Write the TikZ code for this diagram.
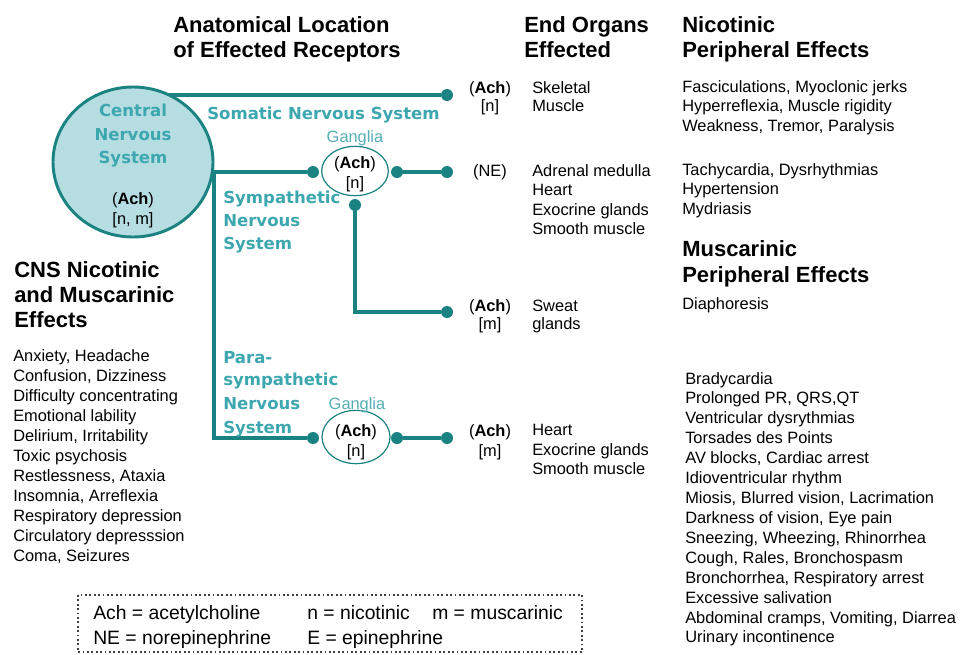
\documentclass[tikz,border=0pt]{standalone}
\usepackage{fontspec}
\setmainfont{Liberation Sans}
\newfontfamily\verd{DejaVu Sans}
\usetikzlibrary{shapes.geometric}
\definecolor{tealline}{HTML}{1B8282}
\definecolor{tealtext}{HTML}{3DA7B0}
\definecolor{tealfill}{HTML}{B6DDE1}
\definecolor{tealsoft}{HTML}{55ADB4}

\begin{document}
\begin{tikzpicture}[x=0.75pt,y=-0.75pt,
  every node/.style={inner sep=0pt},
  body/.style={anchor=base west,font=\fontsize{12.3}{15}\selectfont},
  mid/.style={anchor=base,font=\fontsize{12.3}{15}\selectfont},
  head/.style={anchor=base west,font=\fontsize{16.5}{20}\selectfont\bfseries},
  syslabel/.style={anchor=base west,text=tealtext,font=\fontsize{12.4}{15}\selectfont\verd\bfseries},
  nerve/.style={draw=tealline,line width=3pt},
  knob/.style={circle,fill=tealline,minimum size=9pt},
  ganglion/.style={ellipse,draw=tealline,fill=white,line width=0.9pt,minimum width=50pt,minimum height=37pt},
  legend/.style={anchor=base west,font=\fontsize{14.5}{18}\selectfont}]

\useasboundingbox (0,0) rectangle (973,654);

% column headings
\node[head] (hAnatA) at (173,32) {Anatomical Location};
\node[head] (hAnatB) at (173,57) {of Effected Receptors};
\node[head] (hOrgA) at (524,32) {End Organs};
\node[head] (hOrgB) at (524,57) {Effected};
\node[head] (hNicA) at (682,32) {Nicotinic};
\node[head] (hNicB) at (682,57) {Peripheral Effects};
\node[head] (hMusA) at (682,256) {Muscarinic};
\node[head] (hMusB) at (682,282) {Peripheral Effects};
\node[head] (hCnsA) at (14,277) {CNS Nicotinic};
\node[head] (hCnsB) at (14,302) {and Muscarinic};
\node[head] (hCnsC) at (14,327) {Effects};

% central nervous system
\node[ellipse,draw=tealline,fill=tealfill,line width=2.2pt,minimum width=120pt,minimum height=112.5pt] (cns) at (133,162) {};
\node[syslabel,anchor=base] (cnsA) at (133,116) {Central};
\node[syslabel,anchor=base] (cnsB) at (133,140) {Nervous};
\node[syslabel,anchor=base] (cnsC) at (133,163) {System};
\node[mid] (cnsAch) at (133,204) {(\textbf{Ach})};
\node[mid] (cnsRec) at (133,224) {[n, m]};

% ganglia
\node[ganglion] (gSym) at (355,171) {};
\node[ganglion,minimum width=51pt,minimum height=40pt] (gPara) at (356,437) {};
\node[mid,text=tealsoft] (gSymLbl) at (355,142) {Ganglia};
\node[mid,text=tealsoft] (gParaLbl) at (357,409) {Ganglia};
\node[mid] (gSymAch) at (355,168) {(\textbf{Ach})};
\node[mid] (gSymRec) at (355,188) {[n]};
\node[mid] (gParaAch) at (356,436) {(\textbf{Ach})};
\node[mid] (gParaRec) at (356,456) {[n]};

% knobs
\node[knob] (somEnd) at (447,95) {};
\node[knob] (symIn) at (313,172) {};
\node[knob] (symOut) at (397,172) {};
\node[knob] (symEnd) at (447,172) {};
\node[knob] (sweatIn) at (355,205) {};
\node[knob] (sweatEnd) at (447,312) {};
\node[knob] (paraIn) at (313,438) {};
\node[knob] (paraOut) at (397,438) {};
\node[knob] (paraEnd) at (447,438) {};

% nerves
\draw[nerve] (somEnd) -- (somEnd -| cns.62);
\draw[nerve] (symIn) -- (symIn -| cns.east) -- (cns.east |- paraIn) -- (paraIn);
\draw[nerve] (symOut) -- (symEnd);
\draw[nerve] (sweatIn) -- (sweatIn |- sweatEnd) -- (sweatEnd);
\draw[nerve] (paraOut) -- (paraEnd);

% system names
\node[syslabel] (somLbl) at (207,119) {Somatic Nervous System};
\node[syslabel] (symLblA) at (223,203) {Sympathetic};
\node[syslabel] (symLblB) at (223,226) {Nervous};
\node[syslabel] (symLblC) at (223,249) {System};
\node[syslabel] (paraLblA) at (223,363) {Para-};
\node[syslabel] (paraLblB) at (223,385) {sympathetic};
\node[syslabel] (paraLblC) at (223,409) {Nervous};
\node[syslabel] (paraLblD) at (223,433) {System};

% receptors
\node[mid] (recSomA) at (490,93) {(\textbf{Ach})};
\node[mid] (recSomB) at (490,111) {[n]};
\node[mid] (recSym) at (490,176) {(NE)};
\node[mid] (recSweatA) at (490,311) {(\textbf{Ach})};
\node[mid] (recSweatB) at (490,329) {[m]};
\node[mid] (recParaA) at (490,436) {(\textbf{Ach})};
\node[mid] (recParaB) at (490,456) {[m]};

% end organs
\node[body] (orgSomA) at (532,93) {Skeletal};
\node[body] (orgSomB) at (532,111) {Muscle};
\foreach \t [count=\i] in {Adrenal medulla,Heart,Exocrine glands,Smooth muscle}
  \node[body] (orgSym\i) at (532,156.5+19.5*\i) {\t};
\node[body] (orgSweatA) at (532,311) {Sweat};
\node[body] (orgSweatB) at (532,329) {glands};
\foreach \t [count=\i] in {Heart,Exocrine glands,Smooth muscle}
  \node[body] (orgPara\i) at (532,416+19.5*\i) {\t};

% peripheral effects
\foreach \t [count=\i] in {{Fasciculations, Myoclonic jerks},{Hyperreflexia, Muscle rigidity},{Weakness, Tremor, Paralysis}}
  \node[body] (nicSom\i) at (682,72.5+19.5*\i) {\t};
\foreach \t [count=\i] in {{Tachycardia, Dysrhythmias},Hypertension,Mydriasis}
  \node[body] (nicSym\i) at (682,155.5+19.5*\i) {\t};
\node[body] (musSweat) at (682,309) {Diaphoresis};
\foreach \t [count=\i] in {Bradycardia,{Prolonged PR, QRS,QT},Ventricular dysrythmias,Torsades des Points,
    {AV blocks, Cardiac arrest},Idioventricular rhythm,{Miosis, Blurred vision, Lacrimation},
    {Darkness of\ vision, Eye pain},{Sneezing, Wheezing, Rhinorrhea},{Cough, Rales, Bronchospasm},
    {Bronchorrhea, Respiratory arrest},Excessive salivation,{Abdominal cramps, Vomiting, Diarrea},
    Urinary incontinence}
  \node[body] (musPara\i) at (685,364.08+19.92*\i) {\t};

% CNS effects
\foreach \t [count=\i] in {{Anxiety, Headache},{Confusion, Dizziness},Difficulty concentrating,
    Emotional lability,{Delirium, Irritability},Toxic psychosis,{Restlessness, Ataxia},
    {Insomnia, Arreflexia},Respiratory depression,Circulatory depresssion,{Coma, Seizures}}
  \node[body] (cnsFx\i) at (13,341+20*\i) {\t};

% legend
\draw[dotted,line width=1.3pt,black!75] (78,595) rectangle (582,652);
\node[legend] (keyAch) at (93,619) {Ach = acetylcholine};
\node[legend] (keyN) at (307,619) {n = nicotinic};
\node[legend] (keyM) at (432,619) {m = muscarinic};
\node[legend] (keyNE) at (93,644) {NE = norepinephrine};
\node[legend] (keyE) at (307,644) {E = epinephrine};
\end{tikzpicture}
\end{document}
